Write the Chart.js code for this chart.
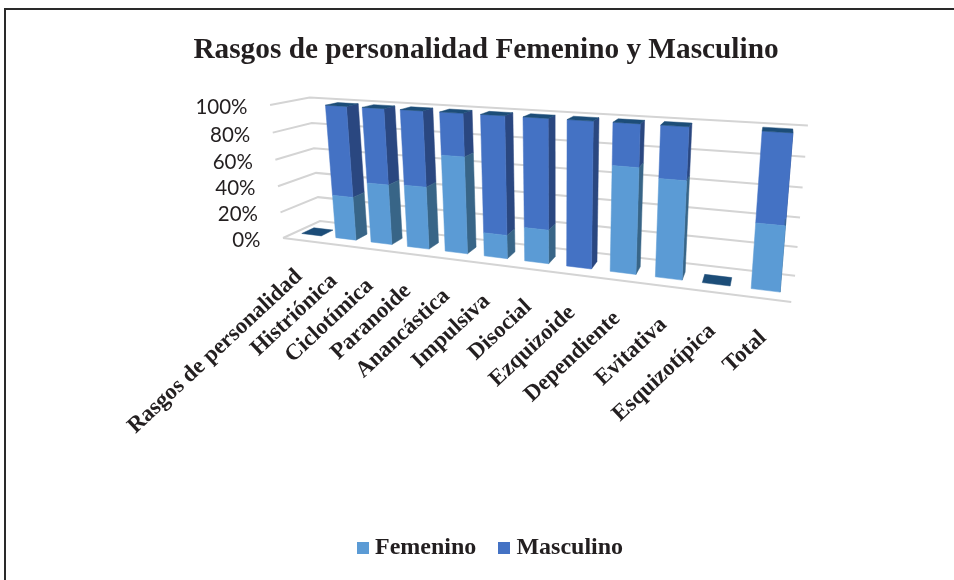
<!DOCTYPE html>
<html>
<head>
<meta charset="utf-8">
<style>html,body{margin:0;padding:0;background:#fff}#w{width:954px;height:580px}</style>
<script src="https://cdn.jsdelivr.net/npm/chart.js@4/dist/chart.umd.min.js"></script>
</head>
<body>
<div id="w"><canvas id="c" width="954" height="580"></canvas></div>
<script>
const categories = ["Rasgos de personalidad","Histriónica","Ciclotímica","Paranoide","Anancástica","Impulsiva","Disocial","Ezquizoide","Dependiente","Evitativa","Esquizotípica","Total"];
const femenino  = [0,33,45,46,70,17,24,0,72,66,0,43];
const masculino = [0,67,55,54,30,83,76,100,28,34,0,57];
const yTicks = [0,20,40,60,80,100];

// Perspective projection of the 3D box: u = along categories, v = depth, w = value
function project(u,v,w){
  const s = 1 - 0.2*u + 0.08*v - 0.045*w;
  return [(283 + 350*u + 62.6*v - 25.1*w)/s, (238 + 3.6*u + 0.68*v - 137.7*w)/s];
}
const DEPTH_FRONT = 0.3, DEPTH_BACK = 0.63, WALL_END = 1.008;
const shades = {
  "#5b9bd5": {side:"#386587", top:null},
  "#4472c4": {side:"#2a4780", top:"#1c4d78"}
};
let plotArea = null;

function poly(ctx,pts,color){
  ctx.beginPath();
  pts.forEach((p,i)=> i?ctx.lineTo(p[0],p[1]):ctx.moveTo(p[0],p[1]));
  ctx.closePath();
  ctx.fillStyle = color; ctx.strokeStyle = color; ctx.lineWidth = 0.5;
  ctx.fill(); ctx.stroke();
}
// Bars keep the library's geometry (x, y, base, width); only their painting goes through the projection.
Chart.BarElement.prototype.draw = function(ctx){
  const a = plotArea;
  const {x,y,base,width} = this.getProps(['x','y','base','width']);
  const nu = px => (px-a.left)/a.width, nw = py => (a.bottom-py)/a.height;
  const u0=nu(x-width/2), u1=nu(x+width/2), w0=nw(base), w1=nw(y);
  const col = this.options.backgroundColor, sh = shades[col];
  const f=DEPTH_FRONT, b=DEPTH_BACK;
  ctx.save();
  if (w1>w0) {
    poly(ctx,[project(u1,f,w0),project(u1,b,w0),project(u1,b,w1),project(u1,f,w1)],sh.side);
    poly(ctx,[project(u0,f,w0),project(u1,f,w0),project(u1,f,w1),project(u0,f,w1)],col);
  }
  if (sh.top) poly(ctx,[project(u0,f,w1),project(u1,f,w1),project(u1,b,w1),project(u0,b,w1)],sh.top);
  ctx.restore();
};

class PerspectiveCategory extends Chart.CategoryScale {
  static id = 'perspectiveCategory';
  static defaults = Chart.CategoryScale.defaults;
  _computeLabelArea(){ return undefined; }
  _computeLabelItems(area){
    const items = super._computeLabelItems(area);
    items.forEach((it,i)=>{
      const u=(this.getPixelForTick(i)-this.left)/this.width;
      const p=project(u,0,0);
      it.options.translation=[p[0]-1-u,p[1]+33+3*u];
      it.options.textAlign='right';
      it.options.textBaseline='middle';
      it.textOffset=0;
    });
    return items;
  }
}
class PerspectiveLinear extends Chart.LinearScale {
  static id = 'perspectiveLinear';
  static defaults = Chart.LinearScale.defaults;
  _computeLabelArea(){ return undefined; }
  _computeLabelItems(area){
    const items = super._computeLabelItems(area);
    items.forEach((it,i)=>{
      const w=(this.bottom-this.getPixelForTick(i))/this.height;
      const p=project(0,0,w);
      it.options.translation=[p[0]-22.5,p[1]+2.4];
      it.options.textAlign='right';
    });
    return items;
  }
}
Chart.register(PerspectiveCategory,PerspectiveLinear);

const walls = {
  id:'walls',
  beforeDatasetsDraw(chart){
    plotArea = chart.chartArea;
    const {ctx,scales:{y}} = chart;
    ctx.save();
    ctx.strokeStyle='#d4d4d4'; ctx.lineWidth=2;
    y.ticks.forEach((t,i)=>{
      const w=(y.bottom-y.getPixelForTick(i))/y.height;
      const a=project(0,0,w),b=project(0,1,w),c=project(WALL_END,1,w);
      ctx.beginPath();ctx.moveTo(a[0],a[1]);ctx.lineTo(b[0],b[1]);ctx.lineTo(c[0],c[1]);ctx.stroke();
    });
    const p=project(0,0,0),q=project(1,0,0);
    ctx.beginPath();ctx.moveTo(p[0],p[1]);ctx.lineTo(q[0],q[1]);ctx.stroke();
    ctx.restore();
  }
};
const frame = {
  id:'frame',
  beforeDraw(chart){
    const ctx=chart.ctx;
    ctx.save();ctx.strokeStyle='#2a2a2a';ctx.lineWidth=2;
    ctx.beginPath();ctx.moveTo(5,580);ctx.lineTo(5,9);ctx.lineTo(954,9);ctx.stroke();
    ctx.restore();
  }
};
const legendShift = {
  id:'legendShift',
  afterLayout(chart){ chart.legend.left += 14; }
};
function swatch(color){
  const c=document.createElement('canvas');c.width=12;c.height=12;
  const g=c.getContext('2d');g.fillStyle=color;g.fillRect(0,0,12,12);
  return c;
}

new Chart(document.getElementById('c'),{
  type:'bar',
  data:{labels:categories,datasets:[
    {label:'Femenino',data:femenino,backgroundColor:'#5b9bd5',barPercentage:0.576,categoryPercentage:1},
    {label:'Masculino',data:masculino,backgroundColor:'#4472c4',barPercentage:0.576,categoryPercentage:1}
  ]},
  plugins:[frame,walls,legendShift],
  options:{
    responsive:false,animation:false,
    layout:{padding:{left:18,right:0,top:0,bottom:10}},
    scales:{
      x:{type:'perspectiveCategory',stacked:true,grid:{display:false},border:{display:false},
         ticks:{autoSkip:false,minRotation:43,maxRotation:43,color:'#231f20',font:{family:'"Liberation Serif"',size:22.8,weight:'bold'}}},
      y:{type:'perspectiveLinear',stacked:true,min:0,max:100,grid:{display:false},border:{display:false},
         afterBuildTicks(s){s.ticks=yTicks.map(v=>({value:v}));},
         ticks:{color:'#231f20',callback:v=>v+'%',font:{family:'Lato',size:20.5}}}
    },
    plugins:{
      tooltip:{enabled:false},
      title:{display:true,text:'Rasgos de personalidad Femenino y Masculino',color:'#231f20',
        font:{family:'"Liberation Serif"',size:29.3,weight:'bold'},padding:{top:33,bottom:10}},
      legend:{position:'bottom',
        labels:{usePointStyle:true,pointStyleWidth:0.1,boxHeight:12,padding:28,color:'#231f20',font:{family:'"Liberation Serif"',size:24,weight:'bold'},
          generateLabels(chart){
            return Chart.defaults.plugins.legend.labels.generateLabels(chart).map(it=>({...it,pointStyle:swatch(it.fillStyle)}));
          }}}
    }
  }
});
</script>
</body>
</html>
